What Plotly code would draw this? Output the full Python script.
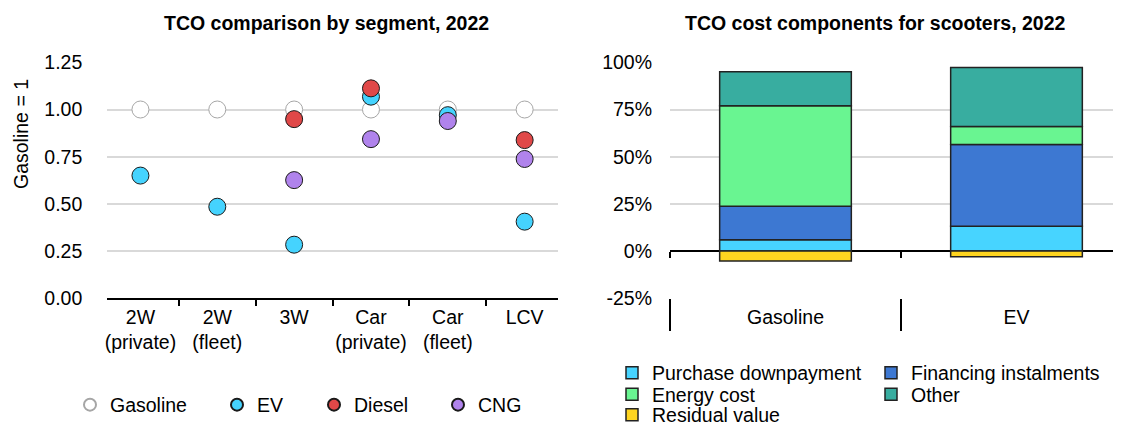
import plotly.graph_objects as go

# ---------------- data ----------------
segments = ["2W<br>(private)", "2W<br>(fleet)", "3W", "Car<br>(private)", "Car<br>(fleet)", "LCV"]
gasoline = [1.00, 1.00, 1.00, 1.00, 1.00, 1.00]
ev = [0.65, 0.485, 0.284, 1.068, 0.97, 0.406]
diesel = [None, None, 0.949, 1.112, None, 0.838]
cng = [None, None, 0.626, 0.843, 0.939, 0.738]

powertrains = ["Gasoline", "EV"]
purchase_downpayment = [0.060, 0.131]
financing_instalments = [0.178, 0.433]
energy_cost = [0.532, 0.096]
other = [0.180, 0.312]
residual_value = [-0.053, -0.030]

share_ticks = [-0.25, 0.0, 0.25, 0.50, 0.75, 1.00]
share_tick_labels = ["-25%", "0%", "25%", "50%", "75%", "100%"]

# The page body adds an 8px offset; the figure is sized to fill the rest of the window
OFF = 8
W, H = 1121 - OFF, 427 - OFF
FONT = "Liberation Sans, Arial, sans-serif"
FS = 19.5


def px(x):
    """window pixel x -> paper fraction"""
    return (x - OFF) / W


def py(y):
    """window pixel y -> paper fraction"""
    return 1 - (y - OFF) / H


fig = go.Figure()

# ---------------- left: scatter ----------------
series = [
    ("Gasoline", gasoline, "#ffffff", "#a6a6a6", "legend"),
    ("EV", ev, "#45d3fe", "#1a1a1a", "legend2"),
    ("Diesel", diesel, "#e04848", "#1a1a1a", "legend3"),
    ("CNG", cng, "#b083ec", "#1a1a1a", "legend4"),
]
for name, vals, fill, edge, lg in series:
    fig.add_trace(go.Scatter(
        x=segments, y=vals, name=name, mode="markers",
        marker=dict(size=17, color=fill, line=dict(color=edge, width=1)),
        xaxis="x", yaxis="y", legend=lg,
    ))

# ---------------- right: stacked bars ----------------
bars = [
    ("Purchase downpayment", purchase_downpayment, "#47d4ff", "legend5"),
    ("Financing instalments", financing_instalments, "#3d78d2", "legend5"),
    ("Energy cost", energy_cost, "#69f591", "legend6"),
    ("Other", other, "#38ada0", "legend6"),
    ("Residual value", residual_value, "#ffd520", "legend7"),
]
for name, vals, col, lg in bars:
    fig.add_trace(go.Bar(
        x=powertrains, y=vals, name=name, width=0.57,
        marker=dict(color=col, line=dict(color="#222222", width=1.5)),
        xaxis="x2", yaxis="y2", legend=lg,
    ))

# dummy trace to carry categories on the zero-level tick axis
fig.add_trace(go.Scatter(x=powertrains, y=[0, 0], mode="none", showlegend=False,
                         hoverinfo="skip", xaxis="x3", yaxis="y2"))

ydom = [py(298.3), py(62.3)]
grid = "#d9d9d9"
tickfont = dict(family=FONT, size=FS, color="#000000")
xr2 = [-0.5, (1121 - 670) / 231 - 0.5]

fig.update_layout(
    width=W, height=H,
    margin=dict(l=0, r=0, t=0, b=0, autoexpand=False),
    paper_bgcolor="white", plot_bgcolor="white",
    font=dict(family=FONT, size=FS, color="#000000"),
    barmode="relative",
    xaxis=dict(domain=[px(107.3), px(557.8)], type="category", anchor="y",
               showline=True, linecolor="#000000", linewidth=2,
               ticks="outside", ticklen=6, tickwidth=1.5, tickcolor="#000000",
               tickson="boundaries", showgrid=False, tickfont=tickfont,
               tickangle=0, fixedrange=True),
    yaxis=dict(domain=ydom, range=[0, 1.25], dtick=0.25, tickformat=".2f",
               anchor="x", showgrid=True, gridcolor=grid, gridwidth=1.5,
               zeroline=False, showline=False, ticks="", ticklabelstandoff=24,
               tickfont=tickfont),
    xaxis2=dict(domain=[px(670), 1.0], type="category", anchor="y2",
                range=xr2, showline=False,
                ticks="outside", ticklen=32, tickwidth=2, tickcolor="#000000",
                tickson="boundaries", showgrid=False, tickfont=tickfont,
                tickangle=0, ticklabelstandoff=5),
    xaxis3=dict(domain=[px(670), 1.0], type="category", anchor="free",
                overlaying="x2", position=py(250.7),
                range=xr2, showline=False,
                ticks="outside", ticklen=6, tickwidth=2, tickcolor="#000000",
                tickson="boundaries", showgrid=False, showticklabels=False),
    yaxis2=dict(domain=ydom, range=[-0.25, 1.0], tickmode="array",
                tickvals=share_ticks, ticktext=share_tick_labels,
                anchor="x2", showgrid=True, gridcolor=grid, gridwidth=1.5,
                zeroline=True, zerolinecolor="#000000", zerolinewidth=2,
                showline=False, ticks="", ticklabelstandoff=17,
                tickfont=tickfont),
    annotations=[
        dict(text="<b>TCO comparison by segment, 2022</b>", x=px(326), y=py(23),
             xref="paper", yref="paper", xanchor="center", yanchor="middle",
             showarrow=False, font=dict(family=FONT, size=FS, color="#000000")),
        dict(text="<b>TCO cost components for scooters, 2022</b>", x=px(875), y=py(23),
             xref="paper", yref="paper", xanchor="center", yanchor="middle",
             showarrow=False, font=dict(family=FONT, size=FS, color="#000000")),
        dict(text="Gasoline = 1", x=px(21), y=py(134), xref="paper", yref="paper",
             xanchor="center", yanchor="middle", textangle=-90, showarrow=False,
             font=dict(family=FONT, size=FS, color="#000000")),
    ],
)

lfont = dict(family=FONT, size=FS, color="#000000")
lx = {"legend": 70, "legend2": 217, "legend3": 314, "legend4": 438}
for k, x0 in lx.items():
    fig.update_layout({k: dict(x=px(x0), y=py(405), orientation="h",
                               yanchor="middle", xanchor="left", itemsizing="constant",
                               bgcolor="rgba(0,0,0,0)", font=lfont)})

rows = {"legend5": 373, "legend6": 394.5, "legend7": 415}
for k, ry in rows.items():
    fig.update_layout({k: dict(x=px(612), y=py(ry), orientation="h",
                               yanchor="middle", xanchor="left",
                               entrywidth=214, entrywidthmode="pixels",
                               bgcolor="rgba(0,0,0,0)", font=lfont)})

fig.write_html("out.html")
